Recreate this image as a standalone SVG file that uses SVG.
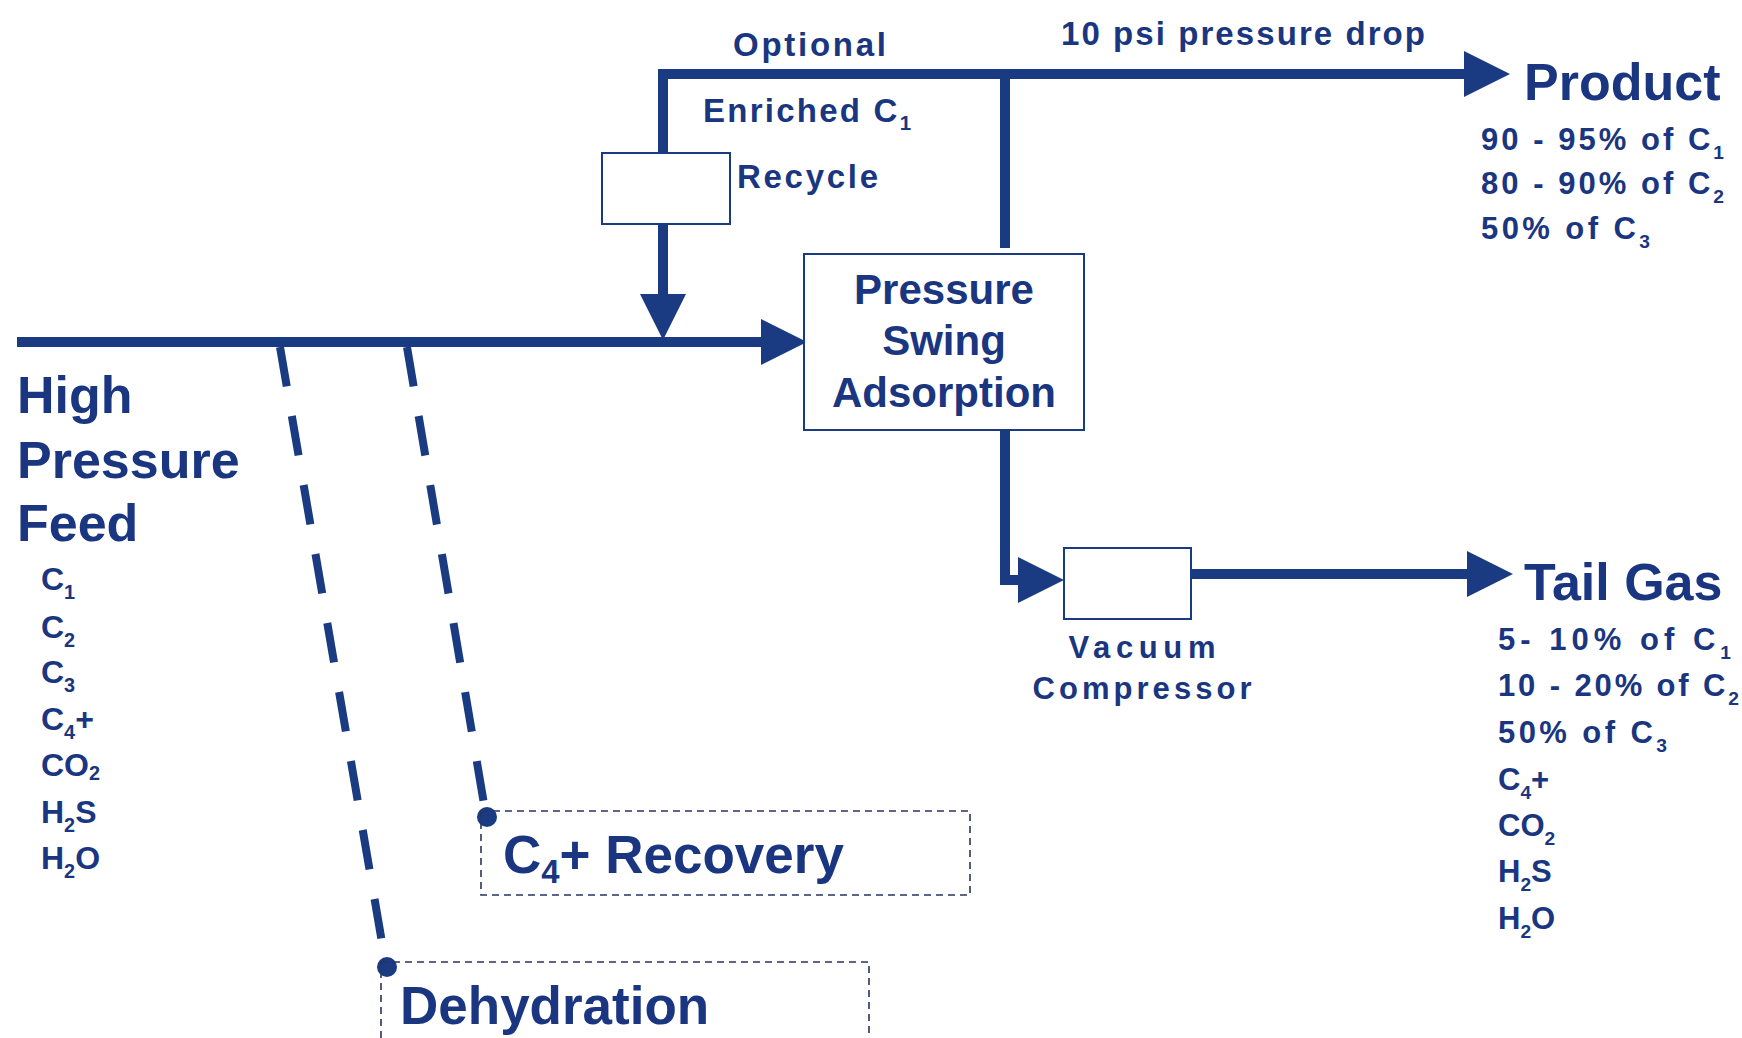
<svg xmlns="http://www.w3.org/2000/svg" width="1742" height="1038" viewBox="0 0 1742 1038">
<style>
text{font-family:"Liberation Sans",Arial,sans-serif;font-weight:bold;fill:#1a3680}
.big{font-size:52px}
.psa{font-size:42px;text-anchor:middle}
.mid{font-size:33px}
.sm{font-size:31px}
.comp{font-size:32px}
.unit{font-size:53px}
.sub{font-size:0.62em}
.flow{fill:none;stroke:#1a3a82;stroke-width:10;stroke-linejoin:miter}
.tap{fill:none;stroke:#1a3a82;stroke-width:8;stroke-dasharray:40 30}
.box{fill:#fff;stroke:#1a3a82;stroke-width:2}
.dbox{fill:none;stroke:#2a3560;stroke-width:1.6;stroke-dasharray:7 5}
.dot{fill:#1a3a82}
</style>
<defs>
<marker id="arr" markerUnits="userSpaceOnUse" markerWidth="46" markerHeight="46" viewBox="0 0 46 46" refX="0" refY="23" orient="auto">
<path d="M0,0 L46,23 L0,46 z" fill="#1a3a82"/>
</marker>
</defs>
<g id="connectors">
<path class="flow" d="M17,342 H761" marker-end="url(#arr)"/>
<path class="flow" d="M658,74 H1464" marker-end="url(#arr)"/>
<path class="flow" d="M663,74 V294" marker-end="url(#arr)"/>
<path class="flow" d="M1005,74 V248"/>
<path class="flow" d="M1005,430 V580 H1018" marker-end="url(#arr)"/>
<path class="flow" d="M1191,574 H1467" marker-end="url(#arr)"/>
<path class="tap" d="M280,347 L385,960"/>
<path class="tap" d="M407,347 L485,810"/>
<circle class="dot" cx="387" cy="967" r="10"/>
<circle class="dot" cx="487" cy="817" r="10"/>
</g>
<g id="recycle-box"><rect class="box" x="602" y="153" width="128" height="71"/></g>
<g id="psa">
<rect class="box" x="804" y="254" width="280" height="176"/>
<text class="psa" x="944" y="304">Pressure</text>
<text class="psa" x="944" y="355">Swing</text>
<text class="psa" x="944" y="407">Adsorption</text>
</g>
<g id="compressor">
<rect class="box" x="1064" y="548" width="127" height="71"/>
<text class="sm" x="1142" y="658" text-anchor="middle" textLength="147" lengthAdjust="spacing">Vacuum</text>
<text class="sm" x="1142" y="699" text-anchor="middle" textLength="219" lengthAdjust="spacing">Compressor</text>
</g>
<g id="labels-top">
<text class="mid" x="733" y="56" textLength="153" lengthAdjust="spacing">Optional</text>
<text class="mid" x="703" y="122" textLength="208" lengthAdjust="spacing">Enriched C<tspan class="sub" dy="8">1</tspan></text>
<text class="mid" x="737" y="188" textLength="141" lengthAdjust="spacing">Recycle</text>
<text class="mid" x="1061" y="45" textLength="364" lengthAdjust="spacing">10 psi pressure drop</text>
</g>
<g id="feed">
<text class="big" x="17" y="413">High</text>
<text class="big" x="17" y="478">Pressure</text>
<text class="big" x="17" y="541">Feed</text>
<text class="comp" x="41" y="590">C<tspan class="sub" dy="9">1</tspan></text>
<text class="comp" x="41" y="638">C<tspan class="sub" dy="9">2</tspan></text>
<text class="comp" x="41" y="683">C<tspan class="sub" dy="9">3</tspan></text>
<text class="comp" x="41" y="730">C<tspan class="sub" dy="9">4</tspan><tspan dy="-9">+</tspan></text>
<text class="comp" x="41" y="776">CO<tspan class="sub" dy="4">2</tspan></text>
<text class="comp" x="41" y="823">H<tspan class="sub" dy="9">2</tspan><tspan dy="-9">S</tspan></text>
<text class="comp" x="41" y="869">H<tspan class="sub" dy="9">2</tspan><tspan dy="-9">O</tspan></text>
</g>
<g id="product">
<text class="big" x="1524" y="100">Product</text>
<text class="sm" x="1481" y="150" textLength="243" lengthAdjust="spacing">90 - 95% of C<tspan class="sub" dy="9">1</tspan></text>
<text class="sm" x="1481" y="194" textLength="243" lengthAdjust="spacing">80 - 90% of C<tspan class="sub" dy="9">2</tspan></text>
<text class="sm" x="1481" y="239" textLength="169" lengthAdjust="spacing">50% of C<tspan class="sub" dy="9">3</tspan></text>
</g>
<g id="tailgas">
<text class="big" x="1524" y="600">Tail Gas</text>
<text class="sm" x="1498" y="650" textLength="233" lengthAdjust="spacing">5- 10% of C<tspan class="sub" dy="9">1</tspan></text>
<text class="sm" x="1498" y="696" textLength="241" lengthAdjust="spacing">10 - 20% of C<tspan class="sub" dy="9">2</tspan></text>
<text class="sm" x="1498" y="743" textLength="169" lengthAdjust="spacing">50% of C<tspan class="sub" dy="9">3</tspan></text>
<text class="sm" x="1498" y="790">C<tspan class="sub" dy="9">4</tspan><tspan dy="-9">+</tspan></text>
<text class="sm" x="1498" y="836">CO<tspan class="sub" dy="9">2</tspan></text>
<text class="sm" x="1498" y="882">H<tspan class="sub" dy="9">2</tspan><tspan dy="-9">S</tspan></text>
<text class="sm" x="1498" y="929">H<tspan class="sub" dy="9">2</tspan><tspan dy="-9">O</tspan></text>
</g>
<g id="c4-recovery">
<rect class="dbox" x="481" y="811" width="489" height="84"/>
<text class="unit" x="503" y="873">C<tspan class="sub" dy="10">4</tspan><tspan dy="-10">+ Recovery</tspan></text>
</g>
<g id="dehydration">
<rect class="dbox" x="381" y="962" width="488" height="90"/>
<text class="unit" x="400" y="1024">Dehydration</text>
</g>
</svg>
